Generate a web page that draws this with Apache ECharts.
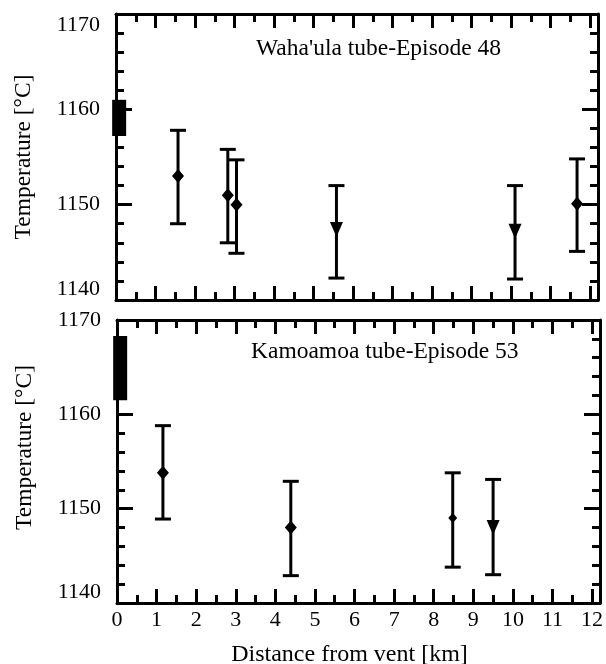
<!DOCTYPE html>
<html><head><meta charset="utf-8">
<script src="https://cdn.jsdelivr.net/npm/echarts@6/dist/echarts.min.js"></script>
<style>html,body{margin:0;padding:0;background:#fff}#c{width:606px;height:664px}</style>
</head><body><div id="c"></div>
<script>
// ---- data ----
const xTickLabels = [0,1,2,3,4,5,6,7,8,9,10,11,12];
const yTickLabels = [1140,1150,1160,1170];

// Waha'ula tube - Episode 48
const topX   = [1.57, 2.83, 3.05, 5.58, 10.1, 11.67];
const topT   = [1153, 1151, 1150, 1147.4, 1147.2, 1150.1];
const topLo  = [1148, 1146, 1144.9, 1142.3, 1142.2, 1145.1];
const topHi  = [1157.8, 1155.8, 1154.7, 1152, 1152, 1154.8];
const topSym = ['diamond','diamond','diamond','tri','tri','diamond'];
const topVent = [1157.2, 1161];

// Kamoamoa tube - Episode 53
const botX   = [1.16, 4.39, 8.48, 9.5];
const botT   = [1153.8, 1148, 1149, 1148];
const botLo  = [1148.9, 1142.9, 1143.8, 1143];
const botHi  = [1158.8, 1152.9, 1153.8, 1153.1];
const botSym = ['diamond','diamond','small','tri'];
const botVent = [1161.5, 1168.3];
const ventX = 0.08;

const FONT = 'Liberation Serif';
const chart = echarts.init(document.getElementById('c'), null, {renderer:'canvas'});

function xAxis(gi, pos, labels) {
  return {
    type:'value', gridIndex:gi, position:pos, min:0, max:12.2, interval:1,
    axisLine:{show:true, onZero:false, lineStyle:{color:'#000', width:3}},
    axisTick:{show:true, inside:true, length:14, lineStyle:{color:'#000', width:3}},
    minorTick:{show:true, splitNumber:2, length:8, lineStyle:{color:'#000', width:3}},
    splitLine:{show:false}, minorSplitLine:{show:false},
    axisLabel:{show:labels, margin:6, color:'#000', fontFamily:FONT, fontSize:22,
      formatter: v => xTickLabels.includes(v) ? String(v) : ''},
    name: labels ? 'Distance from vent [km]' : '', nameLocation:'middle', nameGap:40,
    nameTextStyle:{color:'#000', fontFamily:FONT, fontSize:24, padding:[0,18,0,0]}
  };
}
function yAxis(gi, pos, labels, maxAlign, namePad) {
  return {
    type:'value', gridIndex:gi, position:pos, min:1140, max:1170, interval:10,
    axisLine:{show:true, onZero:false, lineStyle:{color:'#000', width:3}},
    axisTick:{show:true, inside:true, length:16, lineStyle:{color:'#000', width:3}},
    minorTick:{show:true, splitNumber:5, length:8, lineStyle:{color:'#000', width:3}},
    splitLine:{show:false}, minorSplitLine:{show:false},
    axisLabel:{show:labels, margin:16, color:'#000', fontFamily:FONT, fontSize:22,
      verticalAlignMinLabel:'bottom', verticalAlignMaxLabel:maxAlign,
      formatter: v => yTickLabels.includes(v) ? String(v) : ''},
    name: labels ? 'Temperature [°C]' : '', nameLocation:'middle', nameGap:80,
    nameTextStyle:{color:'#000', fontFamily:FONT, fontSize:23.5, padding:namePad}
  };
}

function errRender(params, api) {
  const x = api.value(0), lo = api.value(1), hi = api.value(2);
  const a = api.coord([x, lo]), b = api.coord([x, hi]);
  const hw = 8, st = {stroke:'#000', lineWidth:3};
  return {type:'group', children:[
    {type:'line', shape:{x1:a[0], y1:a[1], x2:b[0], y2:b[1]}, style:st},
    {type:'line', shape:{x1:a[0]-hw, y1:a[1], x2:a[0]+hw, y2:a[1]}, style:st},
    {type:'line', shape:{x1:b[0]-hw, y1:b[1], x2:b[0]+hw, y2:b[1]}, style:st}
  ]};
}
function ventRender(params, api) {
  const x = api.value(0), lo = api.value(1), hi = api.value(2);
  const a = api.coord([x, lo]), b = api.coord([x, hi]);
  return {type:'rect', shape:{x:a[0]-7, y:b[1], width:14, height:a[1]-b[1]}, style:{fill:'#000'}};
}
const symMap = {
  diamond:{symbol:'diamond', symbolSize:[12,14]},
  small:{symbol:'diamond', symbolSize:[9,10]},
  tri:{symbol:'triangle', symbolSize:[13,15], symbolRotate:180}
};
function pts(xs, ts, syms) {
  return xs.map((x,i) => Object.assign({value:[x, ts[i]]}, symMap[syms[i]]));
}

const option = {
  animation:false,
  backgroundColor:'#fff',
  title:[
    {text:"Waha'ula tube-Episode 48", left:256, top:37, padding:0,
     textStyle:{color:'#000', fontFamily:FONT, fontSize:23.5, fontWeight:'normal'}},
    {text:'Kamoamoa tube-Episode 53', left:251, top:340, padding:0,
     textStyle:{color:'#000', fontFamily:FONT, fontSize:23.5, fontWeight:'normal'}}
  ],
  grid:[
    {left:116, top:14, width:482, height:286, outerBoundsMode:'none', containLabel:false},
    {left:117, top:320, width:483, height:283, outerBoundsMode:'none', containLabel:false}
  ],
  xAxis:[xAxis(0,'bottom',false), xAxis(0,'top',false), xAxis(1,'bottom',true), xAxis(1,'top',false)],
  yAxis:[yAxis(0,'left',true,'top',[0,0,0,0]), yAxis(0,'right',false,'top',[0,0,0,0]),
         yAxis(1,'left',true,'middle',[0,0,0,28]), yAxis(1,'right',false,'middle',[0,0,0,0])],
  series:[
    {type:'custom', xAxisIndex:0, yAxisIndex:0, renderItem:errRender, clip:false, z:2,
     encode:{x:0, y:[1,2]}, data: topX.map((x,i)=>[x, topLo[i], topHi[i]])},
    {type:'custom', xAxisIndex:0, yAxisIndex:0, renderItem:ventRender, clip:false, z:2,
     encode:{x:0, y:[1,2]}, data:[[ventX, topVent[0], topVent[1]]]},
    {type:'scatter', xAxisIndex:0, yAxisIndex:0, z:3, itemStyle:{color:'#000', opacity:1},
     data: pts(topX, topT, topSym)},
    {type:'custom', xAxisIndex:2, yAxisIndex:2, renderItem:errRender, clip:false, z:2,
     encode:{x:0, y:[1,2]}, data: botX.map((x,i)=>[x, botLo[i], botHi[i]])},
    {type:'custom', xAxisIndex:2, yAxisIndex:2, renderItem:ventRender, clip:false, z:2,
     encode:{x:0, y:[1,2]}, data:[[ventX, botVent[0], botVent[1]]]},
    {type:'scatter', xAxisIndex:2, yAxisIndex:2, z:3, itemStyle:{color:'#000', opacity:1},
     data: pts(botX, botT, botSym)}
  ]
};
chart.setOption(option);
</script>
</body></html>
